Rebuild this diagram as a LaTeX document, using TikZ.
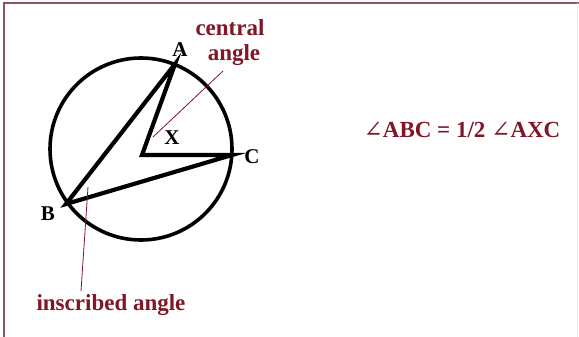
\documentclass[tikz,border=0pt]{standalone}
\usepackage{fontspec}
\setmainfont{Liberation Serif}
\newfontfamily\symf{DejaVu Serif}
\definecolor{lab}{RGB}{128,22,38}
\definecolor{frame}{RGB}{140,85,95}
\begin{document}
\begin{tikzpicture}[x=1pt,y=-1pt,
  thick line/.style={line width=4.2pt,line join=miter,line cap=round},
  lbl/.style={font=\bfseries\fontsize{21}{21}\selectfont,inner sep=0pt},
  red lbl/.style={font=\bfseries\fontsize{23}{23}\selectfont,text=lab,inner sep=0pt,align=center},
  pointer/.style={draw=lab,line width=0.8pt}]
\useasboundingbox (0,0) rectangle (579,337);
\fill[white] (0,0) rectangle (579,337);
\draw[frame,line width=1.5pt] (4,337) -- (4,3) -- (579,3);
\draw[black!8,line width=0.8pt] (577,3) -- (577,337);
% circle
\node[circle,draw,line width=3.6pt,minimum size=182pt,inner sep=0pt] (circ) at (141,149) {};
\coordinate (A) at (175,64);
\coordinate (B) at (66,204);
\coordinate (C) at (232,155);
\coordinate (X) at (142,155);
\draw[thick line] (B) -- (A) -- (X) -- (C) -- cycle;
% labels
\node[lbl] (lA) at (180,50) {A};
\node[lbl] (lB) at (48,214) {B};
\node[lbl] (lC) at (252,157) {C};
\node[lbl] (lX) at (172,138) {X};
\node[red lbl] (central) at (230,28) {central};
\node[red lbl] (angle) at (234,55) {angle};
\node[red lbl] (insc) at (111,305) {inscribed angle};
\node[red lbl] (formula) at (462,130) {{\symf\mdseries ∠}ABC = 1/2 {\symf\mdseries ∠}AXC};
% pointers
\coordinate (p1) at (223,71);
\coordinate (p2) at (153,137);
\coordinate (q1) at (88,187);
\coordinate (q2) at (81,291);
\draw[pointer] (p1) -- (p2);
\draw[pointer] (q1) -- (q2);
\end{tikzpicture}
\end{document}
